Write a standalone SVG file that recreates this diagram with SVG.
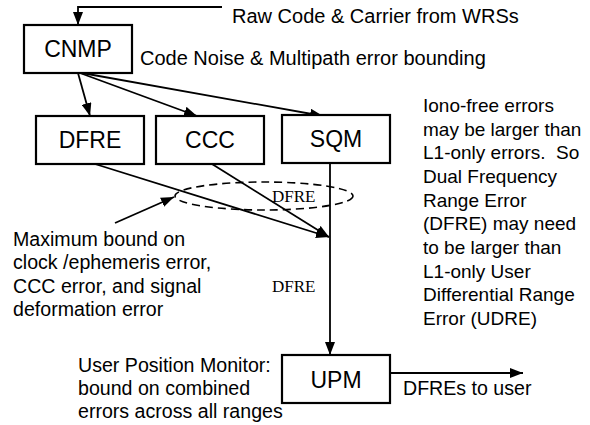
<svg xmlns="http://www.w3.org/2000/svg" width="590" height="425" viewBox="0 0 590 425">
  <style>
    .box { fill: #ffffff; stroke: #000000; stroke-width: 2.2; }
    .lbl { font-family: "Liberation Sans", Arial, sans-serif; font-size: 23px; fill: #000000; text-anchor: middle; }
    .note { font-family: "Liberation Sans", Arial, sans-serif; font-size: 19.6px; fill: #000000; white-space: pre; }
    .big { font-size: 20px; }
    .side { font-size: 19px; }
    .tag { font-family: "Liberation Serif", "Times New Roman", serif; font-size: 17px; fill: #000000; }
    .wire { fill: none; stroke: #000000; stroke-width: 1.8; }
    .arr { marker-end: url(#head); }
  </style>
  <defs>
    <marker id="head" markerUnits="userSpaceOnUse" markerWidth="13" markerHeight="10" refX="13" refY="5" orient="auto">
      <path d="M0,0 L13,5 L0,10 z" fill="#000000"/>
    </marker>
  </defs>

  <rect width="590" height="425" fill="#ffffff"/>

  <g id="connectors">
    <path class="wire arr" d="M222,7 H78 V25"/>
    <line class="wire arr" x1="78" y1="73" x2="90" y2="116"/>
    <line class="wire arr" x1="80" y1="73" x2="197" y2="116"/>
    <line class="wire arr" x1="82" y1="73" x2="323" y2="116"/>
    <line class="wire arr" x1="95" y1="164" x2="329" y2="237"/>
    <line class="wire arr" x1="212" y1="164" x2="329" y2="237"/>
    <line class="wire arr" x1="330" y1="163" x2="330" y2="355"/>
    <line class="wire arr" x1="115" y1="223" x2="174" y2="197"/>
    <line class="wire arr" x1="390" y1="373" x2="523" y2="373"/>
    <ellipse cx="264" cy="196" rx="89" ry="14" fill="none" stroke="#000000" stroke-width="1.6" stroke-dasharray="8 5"/>
    <text class="tag" x="272" y="202">DFRE</text>
    <text class="tag" x="272" y="292">DFRE</text>
  </g>

  <g id="cnmp">
    <rect class="box" x="24" y="25" width="108" height="48"/>
    <text class="lbl" x="78" y="57">CNMP</text>
  </g>
  <g id="dfre">
    <rect class="box" x="36" y="116" width="108" height="48"/>
    <text class="lbl" x="90" y="148">DFRE</text>
  </g>
  <g id="ccc">
    <rect class="box" x="156" y="116" width="108" height="48"/>
    <text class="lbl" x="210" y="148">CCC</text>
  </g>
  <g id="sqm">
    <rect class="box" x="282" y="115" width="108" height="48"/>
    <text class="lbl" x="336" y="147">SQM</text>
  </g>
  <g id="upm">
    <rect class="box" x="282" y="355" width="108" height="48"/>
    <text class="lbl" x="336" y="388">UPM</text>
  </g>

  <g id="notes">
    <text class="note big" x="232" y="23">Raw Code &amp; Carrier from WRSs</text>
    <text class="note big" x="140" y="65">Code Noise &amp; Multipath error bounding</text>
    <text class="note" x="13" y="246">Maximum bound on</text>
    <text class="note" x="13" y="269">clock /ephemeris error,</text>
    <text class="note" x="13" y="293">CCC error, and signal</text>
    <text class="note" x="13" y="316">deformation error</text>
    <text class="note" x="78" y="372">User Position Monitor:</text>
    <text class="note" x="78" y="395">bound on combined</text>
    <text class="note" x="78" y="418">errors across all ranges</text>
    <text class="note" x="403" y="395">DFREs to user</text>
    <text class="note side" x="423" y="112">Iono-free errors</text>
    <text class="note side" x="423" y="135.6">may be larger than</text>
    <text class="note side" x="423" y="159.3" xml:space="preserve">L1-only errors.  So</text>
    <text class="note side" x="423" y="182.9">Dual Frequency</text>
    <text class="note side" x="423" y="206.6">Range Error</text>
    <text class="note side" x="423" y="230.2">(DFRE) may need</text>
    <text class="note side" x="423" y="253.9">to be larger than</text>
    <text class="note side" x="423" y="277.5">L1-only User</text>
    <text class="note side" x="423" y="301.1">Differential Range</text>
    <text class="note side" x="423" y="324.8">Error (UDRE)</text>
  </g>
</svg>
